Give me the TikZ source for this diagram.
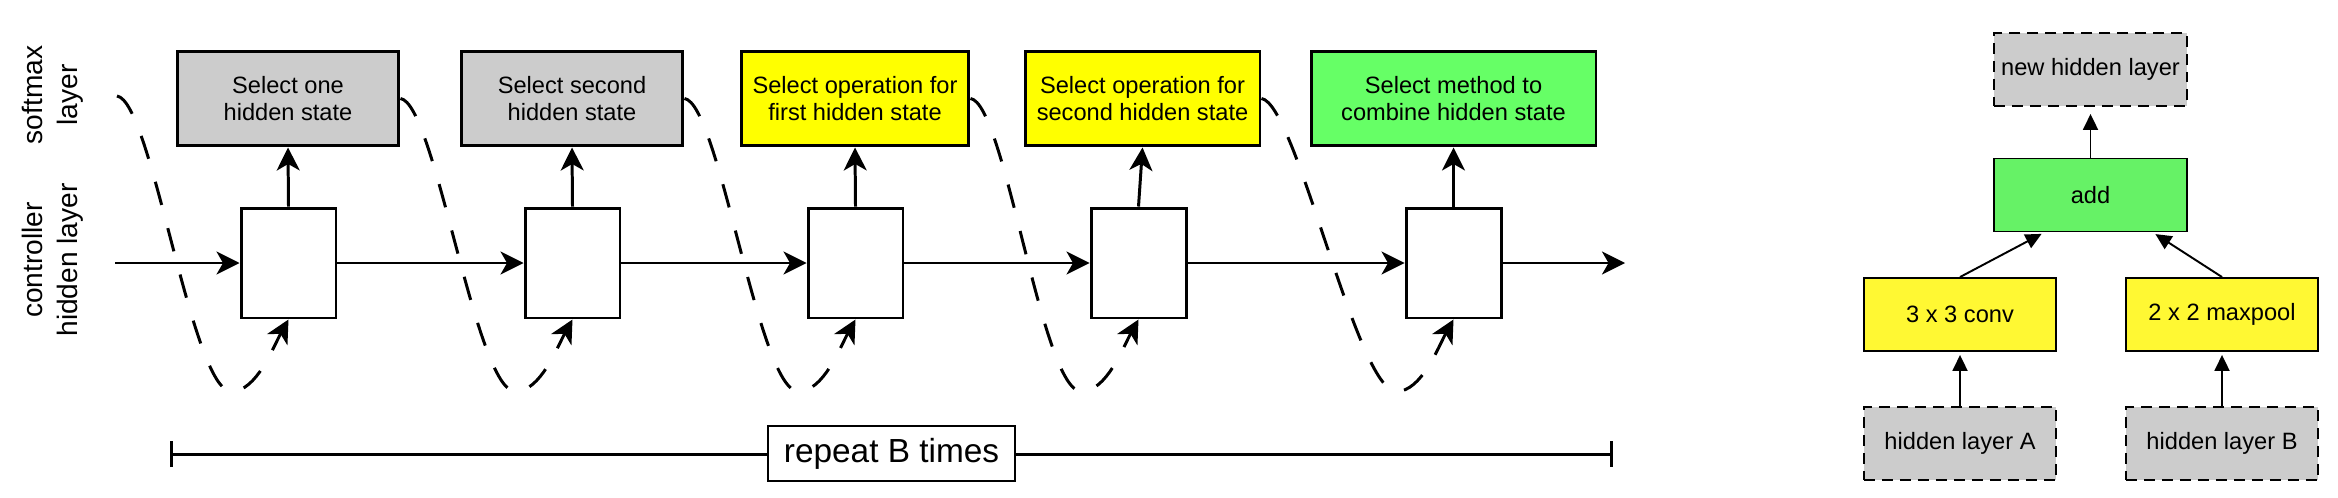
\documentclass[tikz,border=0pt]{standalone}
\usepackage{fontspec}
\setmainfont{Liberation Sans}
\usetikzlibrary{arrows.meta,calc}
\definecolor{boxgray}{HTML}{CCCCCC}
\definecolor{boxyellow}{HTML}{FFFF00}
\definecolor{boxgreen}{HTML}{66FF66}
\definecolor{opyellow}{HTML}{FFF833}
\definecolor{opgreen}{HTML}{66F266}
\tikzset{
  choice/.style={draw,line width=1.7pt,minimum height=1.9cm,align=center,inner sep=0pt,font=\fontsize{13.45}{15.5}\selectfont},
  cellbox/.style={draw,line width=1.7pt,fill=white,minimum width=1.9cm,minimum height=2.2cm},
  flow/.style={line width=1.7pt,-{Stealth[length=0.46cm,width=0.46cm,inset=0.13cm]}},
  loopback/.style={flow,dash pattern=on 0.48cm off 0.48cm},
  opbox/.style={draw,line width=1.1pt,minimum width=3.85cm,minimum height=1.46cm,inner sep=0pt,font=\fontsize{13.45}{15.5}\selectfont},
  statebox/.style={opbox,fill=boxgray,dash pattern=on 0.22cm off 0.14cm},
  link/.style={line width=1.1pt,-{Triangle[length=0.32cm,width=0.3cm]},shorten >=0.06cm},
  sidelabel/.style={rotate=90,align=center,font=\fontsize{16}{19.9}\selectfont}
}
\begin{document}
\begin{tikzpicture}[x=0.02cm,y=-0.02cm]
  \useasboundingbox (0,0) rectangle (2338,497);
  \node[sidelabel] (lsoft) at (53,95) {softmax\\layer};
  \node[sidelabel] (lctrl) at (53,260) {controller\\hidden layer};

  \node[choice,fill=boxgray,minimum width=4.44cm] (box1) at (288,98.5) {Select one\\hidden state};
  \node[choice,fill=boxgray,minimum width=4.44cm] (box2) at (572,98.5) {Select second\\hidden state};
  \node[choice,fill=boxyellow,minimum width=4.56cm] (box3) at (855,98.5) {Select operation for\\first hidden state};
  \node[choice,fill=boxyellow,minimum width=4.70cm] (box4) at (1142.5,98.5) {Select operation for\\second hidden state};
  \node[choice,fill=boxgreen,minimum width=5.70cm] (box5) at (1453.5,98.5) {Select method to\\combine hidden state};

  \node[cellbox] (cell1) at (288.5,263) {};
  \node[cellbox] (cell2) at (572.5,263) {};
  \node[cellbox] (cell3) at (855.5,263) {};
  \node[cellbox] (cell4) at (1138.5,263) {};
  \node[cellbox] (cell5) at (1453.5,263) {};

  \coordinate (in) at (115,263); \coordinate (out) at (1625,263);
  \draw[flow] (in) -- (cell1.west);
  \draw[flow] (cell1.east) -- (cell2.west);
  \draw[flow] (cell2.east) -- (cell3.west);
  \draw[flow] (cell3.east) -- (cell4.west);
  \draw[flow] (cell4.east) -- (cell5.west);
  \draw[flow] (cell5.east) -- (out);

  \draw[flow] (cell1.north) -- (box1.south);
  \draw[flow] (cell2.north) -- (box2.south);
  \draw[flow] (cell3.north) -- (box3.south);
  \draw[flow] (cell4.north) -- (box4.south);
  \draw[flow] (cell5.north) -- (box5.south);

  \coordinate (start) at (117,96);
  \draw[loopback] (start) .. controls +(35,5) and +(-40,0) .. ($(cell1.south)+(-57,72)$) .. controls +(25,0) and +(-15,27) .. (cell1.south);
  \draw[loopback] (box1.east) .. controls +(35,5) and +(-40,0) .. ($(cell2.south)+(-57,72)$) .. controls +(25,0) and +(-15,27) .. (cell2.south);
  \draw[loopback] (box2.east) .. controls +(35,5) and +(-40,0) .. ($(cell3.south)+(-57,72)$) .. controls +(25,0) and +(-15,27) .. (cell3.south);
  \draw[loopback] (box3.east) .. controls +(35,5) and +(-40,0) .. ($(cell4.south)+(-57,72)$) .. controls +(25,0) and +(-15,27) .. (cell4.south);
  \draw[loopback] (box4.east) .. controls +(35,5) and +(-40,0) .. ($(cell5.south)+(-57,72)$) .. controls +(25,0) and +(-15,27) .. (cell5.south);

  \coordinate (rl) at (170,454); \coordinate (rr) at (1613,454);
  \draw[line width=1.7pt,{Bar[width=0.52cm]}-{Bar[width=0.52cm]}] (rl) -- (rr);
  \node[draw,line width=1.1pt,fill=white,minimum width=4.94cm,minimum height=1.1cm,font=\fontsize{19}{22}\selectfont] (rep) at (891.5,453.5) {repeat B times};

  \node[statebox] (newh) at (2090.5,69.5) {new hidden layer};
  \node[opbox,fill=opgreen] (add) at (2090.5,195) {add};
  \node[opbox,fill=opyellow] (conv) at (1960,314.5) {3 x 3 conv};
  \node[opbox,fill=opyellow] (pool) at (2222,314.5) {2 x 2 maxpool};
  \node[statebox] (hA) at (1960,443.5) {hidden layer A};
  \node[statebox] (hB) at (2222,443.5) {hidden layer B};
  \draw[link] (hA) -- (conv);
  \draw[link] (hB) -- (pool);
  \draw[link] (conv.north) -- (add.219);
  \draw[link] (pool.north) -- (add.329);
  \draw[link,shorten >=0.14cm] (add.north) -- (newh.south);
\end{tikzpicture}
\end{document}
